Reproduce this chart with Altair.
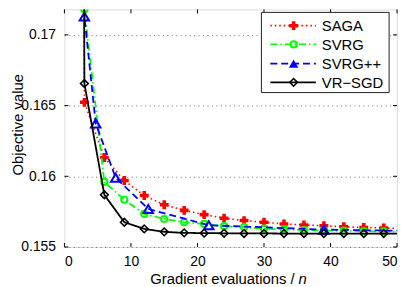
import altair as alt
import pandas as pd

# ---------------- data ----------------
saga_x = [0, 3, 6, 9, 12, 15, 18, 21, 24, 27, 30, 33, 36, 39, 42, 45, 48, 51]
saga_y = [0.6931, 0.16523, 0.16133, 0.1597, 0.15864, 0.15799, 0.15759, 0.15729, 0.15703,
          0.15687, 0.15675, 0.15663, 0.15656, 0.1565, 0.15643, 0.15638, 0.15634, 0.1563]

svrg_x = [0, 3, 6, 9, 12, 15, 18, 21, 24, 27, 30, 33, 36, 39, 42, 45, 48, 51]
svrg_y = [0.6931, 0.1718, 0.1596, 0.15834, 0.15734, 0.15698, 0.15675, 0.15663, 0.15647,
          0.1564, 0.1563, 0.15625, 0.1562, 0.15617, 0.15615, 0.15612, 0.1561, 0.15608]

svrgpp_x = [0, 3, 4.7, 7.7, 12.6, 21.7, 39, 72]
svrgpp_y = [0.6931, 0.1713, 0.16374, 0.1599, 0.15769, 0.15654, 0.15623, 0.156]

vrsgd_x = [0, 3, 6, 9, 12, 15, 18, 21, 24, 27, 30, 33, 36, 39, 42, 45, 48, 51]
vrsgd_y = [0.6931, 0.16656, 0.15869, 0.15675, 0.15628, 0.15607, 0.156, 0.15598, 0.15597,
           0.15596, 0.15596, 0.15595, 0.15595, 0.15595, 0.15595, 0.15595, 0.15595, 0.15595]

series_names = ["SAGA", "SVRG", "SVRG++", "VR\u2212SGD"]
x_ticks = [0, 10, 20, 30, 40, 50]
y_ticks = [0.155, 0.16, 0.165, 0.17]

# ---------------- build ----------------
FONT = "Liberation Sans"
W, H = 336, 240
x_dom = [0, 50]
y_dom = [0.155, 0.1718]

styles = {
    "SAGA": dict(color="#FF0000", dash=[1.5, 3], shape="cross", filled=True, size=80, sw=1.5),
    "SVRG": dict(color="#00FF00", dash=[7, 3, 1.5, 3], shape="circle", filled=False, size=40, sw=2),
    "SVRG++": dict(color="#0000FF", dash=[7, 4], shape="triangle-up", filled=False, size=90, sw=2),
    "VR\u2212SGD": dict(color="#000000", dash=[1, 0], shape="diamond", filled=False, size=60, sw=1.6),
}

xs = [saga_x, svrg_x, svrgpp_x, vrsgd_x]
ys = [saga_y, svrg_y, svrgpp_y, vrsgd_y]

rows = []
for name, xv, yv in zip(series_names, xs, ys):
    for a, b in zip(xv, yv):
        rows.append({"x": a, "y": b, "s": name})
df = pd.DataFrame(rows)

xscale = alt.Scale(domain=x_dom, nice=False, zero=False)
yscale = alt.Scale(domain=y_dom, nice=False, zero=False)

x_axis = alt.Axis(values=x_ticks, format="d", title=None, grid=False, ticks=False, tickSize=0,
                  domain=False, labelFont=FONT, labelFontSize=14, labelColor="black",
                  labelPadding=8)
y_axis = alt.Axis(values=y_ticks, format=".3~f", title="Objective value", grid=True,
                  gridDash=[1, 3.5], gridColor="#707070", gridWidth=1,
                  ticks=False, tickSize=0, domain=False, labelFont=FONT, labelFontSize=14,
                  labelColor="black", labelPadding=9, titleFont=FONT, titleFontSize=15,
                  titleFontWeight="normal", titleColor="black", titleX=-42, titleY=116,
                  titleBaseline="alphabetic", titleAngle=-90)

X = alt.X("x:Q", scale=xscale, axis=x_axis)
Y = alt.Y("y:Q", scale=yscale, axis=y_axis)

base = alt.Chart(df)
layers = []
for name in series_names:
    st = styles[name]
    sub = base.transform_filter(alt.datum.s == name)
    layers.append(
        sub.mark_line(clip=True, color=st["color"], strokeDash=st["dash"],
                      strokeWidth=1.8 if name != "SAGA" else 1.6).encode(x=X, y=Y)
    )
    pt = dict(shape=st["shape"], size=st["size"], opacity=1, clip=True)
    if st["filled"]:
        pt.update(filled=True, color=st["color"], strokeWidth=0)
    else:
        pt.update(filled=False, color=st["color"], strokeWidth=st["sw"])
    layers.append(sub.mark_point(**pt).encode(x=X, y=Y))

# inward tick marks (bottom/top/left/right)
xt = pd.DataFrame({"x": x_ticks})
yt = pd.DataFrame({"y": y_ticks})
tick_layers = [
    alt.Chart(xt).mark_rule(color="black", strokeWidth=1).encode(
        x=X, y=alt.value(H), y2=alt.value(H - 4)),
    alt.Chart(xt).mark_rule(color="black", strokeWidth=1).encode(
        x=X, y=alt.value(0), y2=alt.value(4)),
    alt.Chart(yt).mark_rule(color="black", strokeWidth=1).encode(
        y=Y, x=alt.value(0), x2=alt.value(4)),
    alt.Chart(yt).mark_rule(color="black", strokeWidth=1).encode(
        y=Y, x=alt.value(W), x2=alt.value(W - 4)),
]

one = pd.DataFrame({"k": [0]})

# x-axis title with italic n
xtitle = [
    alt.Chart(one).mark_text(font=FONT, fontSize=15, align="right", baseline="alphabetic",
                             color="black").encode(
        x=alt.value(232.5), y=alt.value(277), text=alt.value("Gradient evaluations /")),
    alt.Chart(one).mark_text(font=FONT, fontSize=15, fontStyle="italic", align="left",
                             baseline="alphabetic", color="black").encode(
        x=alt.value(236.5), y=alt.value(277), text=alt.value("n")),
]

# custom legend
LX0, LX1, LY0, LY1 = 199, 328, 3, 84
legend = [
    alt.Chart(one).mark_rect(fill="white", stroke="#222222", strokeWidth=1).encode(
        x=alt.value(LX0), x2=alt.value(LX1), y=alt.value(LY0), y2=alt.value(LY1))
]
row_y = [16.4, 35.4, 54.7, 73.7]
for name, ry in zip(series_names, row_y):
    st = styles[name]
    legend.append(
        alt.Chart(one).mark_rule(color=st["color"], strokeDash=st["dash"],
                                 strokeWidth=1.8).encode(
            x=alt.value(208), x2=alt.value(254), y=alt.value(ry)))
    pt = dict(shape=st["shape"], size=st["size"], opacity=1)
    if st["filled"]:
        pt.update(filled=True, color=st["color"], strokeWidth=0)
    elif name == "SVRG++":
        pt.update(filled=True, color=st["color"], strokeWidth=1)
    else:
        pt.update(filled=False, color=st["color"], strokeWidth=st["sw"])
    legend.append(
        alt.Chart(one).mark_point(**pt).encode(x=alt.value(231.5), y=alt.value(ry)))
    legend.append(
        alt.Chart(one).mark_text(font=FONT, fontSize=15, align="left", baseline="middle",
                                 color="black").encode(
            x=alt.value(260), y=alt.value(ry + 0.5), text=alt.value(name)))

chart = alt.layer(*layers, *tick_layers, *xtitle, *legend).properties(
    width=W, height=H,
    autosize=alt.AutoSizeParams(type="none"),
    padding={"left": 57, "top": 0, "right": 4, "bottom": 41},
).configure_view(stroke="black", strokeWidth=1).configure(background="white")

chart.save("out.html", embed_options={"renderer": "svg", "actions": False})
